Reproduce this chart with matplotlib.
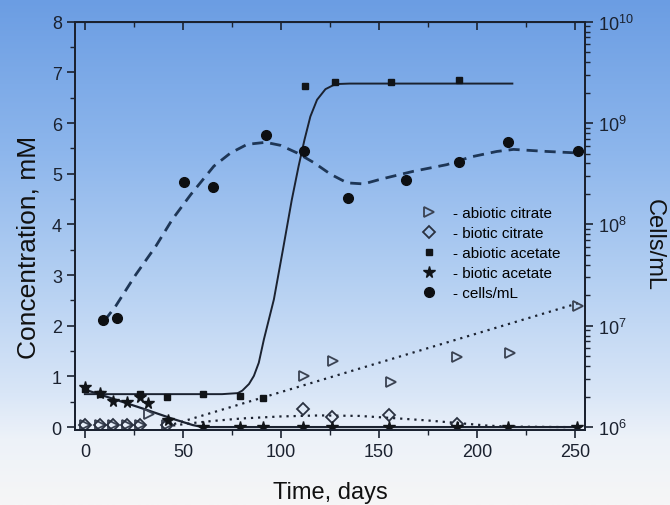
import numpy as np
import matplotlib
matplotlib.use("Agg")
import matplotlib.pyplot as plt
from matplotlib.colors import LinearSegmentedColormap
from matplotlib.lines import Line2D
from matplotlib.ticker import MultipleLocator, LogLocator, NullFormatter

plt.rcParams['font.family'] = ['Liberation Sans', 'DejaVu Sans']
plt.rcParams['mathtext.default'] = 'regular'

# ---------------- data ----------------
days_abiotic_citrate = [0, 7.5, 14.5, 21.5, 28, 32.5, 42, 111.5, 126.5, 156, 190, 217, 251.5]
abiotic_citrate = [0.04, 0.04, 0.04, 0.04, 0.04, 0.25, 0.05, 1.01, 1.31, 0.89, 1.39, 1.47, 2.39]

days_biotic_citrate = [0, 7.5, 14.5, 21.5, 28, 42, 111, 126, 155, 190]
biotic_citrate = [0.04, 0.04, 0.04, 0.04, 0.04, 0.05, 0.35, 0.19, 0.24, 0.06]

days_abiotic_acetate = [0, 7.6, 28.2, 42, 60, 79, 91, 112.5, 127.5, 156.3, 191]
abiotic_acetate = [0.76, 0.66, 0.66, 0.60, 0.65, 0.62, 0.58, 6.73, 6.82, 6.82, 6.86]

days_biotic_acetate = [0, 7.8, 14.4, 21.4, 28.2, 32.4, 42.4, 60, 79, 91, 111, 126, 155, 190, 216, 251]
biotic_acetate = [0.80, 0.68, 0.51, 0.50, 0.60, 0.47, 0.14, 0, 0, 0, 0, 0, 0, 0, 0, 0]

days_cells = [9.5, 16.6, 50.6, 65.5, 92.2, 112, 134.2, 163.6, 190.6, 216, 251.7]
cells = [1.14e7, 1.2e7, 2.6e8, 2.34e8, 7.7e8, 5.25e8, 1.84e8, 2.72e8, 4.17e8, 6.46e8, 5.25e8]

# fitted curves
fit_abiotic_acetate_x = [0, 40, 70, 78, 80.3, 83.7, 86.2, 88.7, 91.3, 96.4, 101, 105.5, 109,
                         112, 115, 118.4, 122.7, 127.8, 135, 218]
fit_abiotic_acetate_y = [0.65, 0.65, 0.65, 0.67, 0.72, 0.85, 1.01, 1.27, 1.73, 2.52, 3.5, 4.48, 5.15,
                         5.67, 6.13, 6.46, 6.67, 6.77, 6.78, 6.78]

fit_biotic_acetate_x = [0, 15, 30, 45, 55, 60, 250]
fit_biotic_acetate_y = [0.74, 0.55, 0.36, 0.16, 0.04, 0.0, 0.0]

fit_abiotic_citrate_x = [45.5, 252]
fit_abiotic_citrate_y = [0.06, 2.45]

fit_biotic_citrate_x = [45, 55, 65, 80, 100, 120, 140, 160, 175, 190, 205, 215, 245]
fit_biotic_citrate_y = [0.03, 0.08, 0.12, 0.17, 0.21, 0.23, 0.22, 0.17, 0.13, 0.08, 0.03, 0.01, 0.0]

fit_cells_x = [10, 15.8, 26, 36.2, 44.6, 54, 65.8, 74.3, 82.8, 92.2, 99.8, 108.3, 116.8, 125.3,
               133.8, 142.2, 150.7, 167.7, 184.6, 196.5, 210.1, 218.6, 235.5, 251.5]
fit_cells_y = [1.12e7, 1.57e7, 3.2e7, 6.1e7, 1.12e8, 1.97e8, 3.76e8, 5.07e8, 6.17e8, 6.46e8, 6.03e8,
               5.07e8, 4.07e8, 3.13e8, 2.57e8, 2.51e8, 2.79e8, 3.35e8, 3.89e8, 4.62e8, 5.25e8,
               5.5e8, 5.25e8, 5.07e8]

legend_labels = ['- abiotic citrate', '- biotic citrate', '- abiotic acetate',
                 '- biotic acetate', '- cells/mL']

# ---------------- figure ----------------
fig = plt.figure(figsize=(6.7, 5.06), dpi=100)

# background gradient
bg = fig.add_axes([0, 0, 1, 1], zorder=-10)
cmap = LinearSegmentedColormap.from_list('bg', [
    (0.0, '#6B9DE3'), (0.30, '#8DB6EC'), (0.55, '#B3CFF2'),
    (0.78, '#D9E6F7'), (0.87, '#EDF2F9'), (1.0, '#F6F6F6')])
grad = np.linspace(0, 1, 256).reshape(-1, 1)
bg.imshow(grad, aspect='auto', cmap=cmap, extent=[0, 1, 0, 1], origin='upper')
bg.set_axis_off()

ax = fig.add_axes([0.112, 0.148, 0.761, 0.807])
ax.set_facecolor('none')
ax2 = ax.twinx()
ax2.set_facecolor('none')

ink = '#1b2230'
ac_style = dict(marker='>', ls='none', ms=7.5, mfc='none', mec='#3a4252', mew=1.3)
bc_style = dict(marker='D', ls='none', ms=6, mfc='none', mec='#2a3140', mew=1.3)
aa_style = dict(marker='s', ls='none', ms=4.5, color='#111418')
ba_style = dict(marker='*', ls='none', ms=8.5, color='#111418')
ce_style = dict(marker='o', ls='none', ms=7, color='#0d0f12')

ax.plot(fit_abiotic_acetate_x, fit_abiotic_acetate_y, '-', color=ink, lw=1.4, zorder=3)
ax.plot(fit_biotic_acetate_x, fit_biotic_acetate_y, '-', color=ink, lw=1.6, zorder=3)
ax.plot(fit_abiotic_citrate_x, fit_abiotic_citrate_y, linestyle=(0, (1, 2.2)), color=ink, lw=1.6, zorder=3)
ax.plot(fit_biotic_citrate_x, fit_biotic_citrate_y, linestyle=(0, (1, 2.2)), color=ink, lw=1.6, zorder=3)

ax.plot(days_abiotic_citrate, abiotic_citrate, zorder=4, **ac_style)
ax.plot(days_biotic_citrate, biotic_citrate, zorder=4, **bc_style)
ax.plot(days_abiotic_acetate, abiotic_acetate, zorder=5, **aa_style)
ax.plot(days_biotic_acetate, biotic_acetate, zorder=5, **ba_style)

ax2.plot(fit_cells_x, fit_cells_y, linestyle=(0, (4, 2.5)), color='#1e3656', lw=2.0, zorder=3)
ax2.plot(days_cells, cells, zorder=5, **ce_style)

ax.set_xlim(-5, 255)
ax.set_ylim(-0.06, 8)
ax2.set_yscale('log')
ax2.set_ylim(10 ** (6 - 0.03), 1e10)

tick_fs = 13
ax.xaxis.set_major_locator(MultipleLocator(50))
ax.xaxis.set_minor_locator(MultipleLocator(25))
ax.yaxis.set_major_locator(MultipleLocator(1))
ax.yaxis.set_minor_locator(MultipleLocator(0.5))
ax.tick_params(axis='both', which='major', direction='out', length=6, width=1.2, labelsize=tick_fs, colors=ink)
ax.tick_params(axis='both', which='minor', direction='out', length=3.5, width=1.0, colors=ink)
ax.tick_params(axis='x', top=False, which='both')

# top ticks pointing inward
sec = ax.secondary_xaxis('top')
sec.xaxis.set_major_locator(MultipleLocator(50))
sec.xaxis.set_minor_locator(MultipleLocator(25))
sec.tick_params(which='major', direction='in', length=6, width=1.2, labeltop=False, colors=ink)
sec.tick_params(which='minor', direction='in', length=3.5, width=1.0, colors=ink)

ax2.yaxis.set_major_locator(LogLocator(base=10, numticks=10))
ax2.yaxis.set_minor_locator(LogLocator(base=10, subs=np.arange(2, 10), numticks=20))
ax2.yaxis.set_minor_formatter(NullFormatter())
ax2.tick_params(axis='y', which='major', direction='out', length=6, width=1.2, labelsize=tick_fs, colors=ink)
ax2.tick_params(axis='y', which='minor', direction='out', length=3.5, width=1.0, colors=ink)

for a in (ax, ax2):
    for s in a.spines.values():
        s.set_color(ink)
        s.set_linewidth(1.4)

ax.set_xlabel('Time, days', fontsize=17, color='#111', labelpad=15)
ax.set_ylabel('Concentration, mM', fontsize=19, color='#111', va='center', ha='center')
ax.yaxis.set_label_coords(-0.092, 0.45)
ax2.set_ylabel('Cells/mL', fontsize=17, color='#111', rotation=270, va='center', ha='center')
ax2.yaxis.set_label_coords(1.135, 0.456)

handles = [Line2D([], [], **ac_style), Line2D([], [], **bc_style), Line2D([], [], **aa_style),
           Line2D([], [], **ba_style), Line2D([], [], **ce_style)]
ax2.legend(handles, legend_labels, loc='upper left', bbox_to_anchor=(0.655, 0.575),
           frameon=False, fontsize=11, handlelength=1.2, handletextpad=1.0,
           labelspacing=0.4, borderpad=0.2)

fig.savefig('out.png', dpi=100)
